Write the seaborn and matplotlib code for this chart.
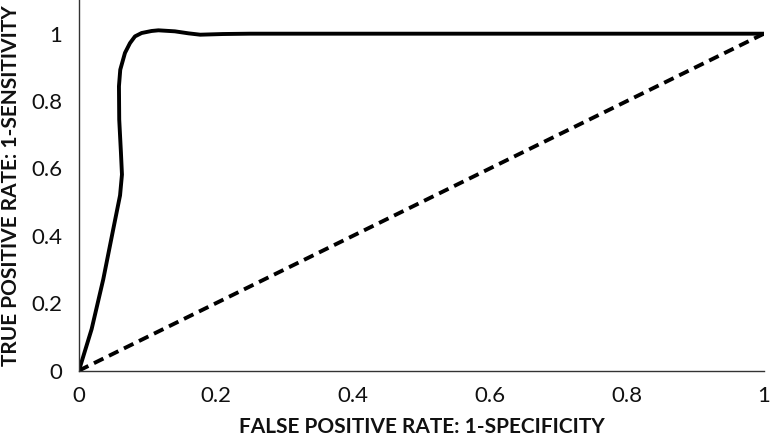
import matplotlib
matplotlib.use("Agg")
import matplotlib.pyplot as plt
import pandas as pd
import seaborn as sns

# ROC curve (false positive rate, true positive rate)
fpr = [0.0, 0.0185, 0.0355, 0.050, 0.0600, 0.0628, 0.0613, 0.0588, 0.0584,
       0.0603, 0.0672, 0.0745, 0.0818, 0.0915, 0.106, 0.116, 0.140, 0.160,
       0.177, 0.210, 0.250, 1.0]
tpr = [0.0, 0.123, 0.271, 0.419, 0.520, 0.582, 0.647, 0.745, 0.844,
       0.893, 0.943, 0.972, 0.992, 1.002, 1.008, 1.010, 1.007, 1.001,
       0.997, 0.999, 1.0, 1.0]

# chance diagonal
diag_x = [0.0, 1.0]
diag_y = [0.0, 1.0]

x_ticks = [0, 0.2, 0.4, 0.6, 0.8, 1]
y_ticks = [0, 0.2, 0.4, 0.6, 0.8, 1]
tick_labels = ["0", "0.2", "0.4", "0.6", "0.8", "1"]

sns.set_theme(style="white")
plt.rcParams["font.family"] = ["Lato", "DejaVu Sans"]

fig = plt.figure(figsize=(7.74, 4.37), dpi=100)
ax = fig.add_axes([0.102, 0.152, 0.885, 0.848])

roc = pd.DataFrame({"fpr": fpr, "tpr": tpr})
sns.lineplot(data=roc, x="fpr", y="tpr", sort=False, estimator=None,
             color="black", linewidth=2.8, ax=ax)
ax.plot(diag_x, diag_y, color="black", linewidth=2.8, dashes=(2.7, 1.6))

ax.set_xlim(0, 1)
ax.set_ylim(0, 1.1)
ax.set_xticks(x_ticks)
ax.set_xticklabels(tick_labels)
ax.set_yticks(y_ticks)
ax.set_yticklabels(tick_labels)
ax.tick_params(axis="both", length=0, labelsize=16, colors="#111111")
ax.tick_params(axis="x", pad=11)
ax.tick_params(axis="y", pad=12)

for side in ["top", "right"]:
    ax.spines[side].set_visible(False)
for side in ["left", "bottom"]:
    ax.spines[side].set_color("#333333")
    ax.spines[side].set_linewidth(1.0)

ax.set_xlabel("FALSE POSITIVE RATE: 1-SPECIFICITY", fontsize=15,
              fontweight="bold", color="#111111", labelpad=8)
ax.set_ylabel("TRUE POSITIVE RATE: 1-SENSITIVITY", fontsize=15,
              fontweight="bold", color="#111111", labelpad=7)

fig.savefig("out.png", dpi=100)
